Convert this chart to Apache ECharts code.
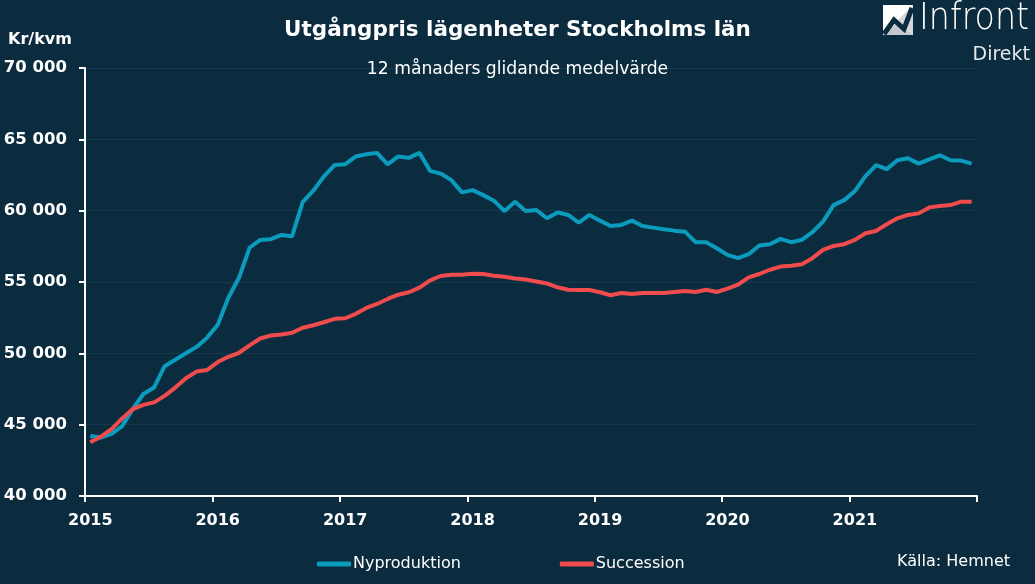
<!DOCTYPE html>
<html>
<head>
<meta charset="utf-8">
<script src="https://cdn.jsdelivr.net/npm/echarts@6/dist/echarts.min.js"></script>
<style>
html,body{margin:0;padding:0;background:#0b2b3e;}
#chart{width:1035px;height:584px;}
</style>
</head>
<body>
<div id="chart"></div>
<script>
var years = ['2015','2016','2017','2018','2019','2020','2021'];
var yTicks = [40000, 45000, 50000, 55000, 60000, 65000, 70000];
var nyproduktion = [
44200,44100,44350,44900,46100,47150,47600,49100,49550,50000,50450,51100,
52000,53900,55300,57400,57950,58000,58300,58200,60600,61400,62400,63200,
63250,63800,63950,64050,63250,63800,63700,64050,62790,62600,62140,61280,
61440,61090,60700,59980,60630,59980,60050,59470,59880,59700,59160,59700,
59300,58930,59000,59300,58930,58810,58700,58600,58530,57790,57790,57370,
56900,56670,56950,57560,57650,58020,57790,57950,58490,59230,60390,60740,
61370,62420,63190,62910,63530,63670,63300,63600,63880,63530,63510,63300
];
var succession = [
43760,44160,44690,45440,46090,46390,46560,47020,47600,48250,48720,48830,
49390,49760,50040,50560,51040,51250,51320,51440,51790,51970,52180,52420,
52460,52770,53180,53460,53810,54110,54280,54600,55120,55420,55510,55510,
55580,55560,55440,55370,55250,55180,55040,54900,54630,54460,54440,54440,
54280,54070,54230,54160,54230,54230,54230,54300,54370,54300,54460,54300,
54530,54810,55320,55560,55860,56080,56140,56250,56670,57250,57530,57650,
57950,58420,58580,59050,59460,59700,59810,60230,60320,60390,60630,60630
];
var months = [];
years.forEach(function(y){ for (var m = 1; m <= 12; m++) months.push(y + '-' + (m < 10 ? '0' + m : m)); });

var bg = '#0b2b3e';
var chart = echarts.init(document.getElementById('chart'));
chart.setOption({
  backgroundColor: bg,
  animation: false,
  title: [
    { text: 'Utgångpris lägenheter Stockholms län', left: 'center', top: 14,
      textStyle: { color: '#ffffff', fontFamily: 'DejaVu Sans', fontWeight: 'bold', fontSize: 21.5 } },
    { text: '12 månaders glidande medelvärde', left: 'center', top: 56,
      textStyle: { color: '#ffffff', fontFamily: 'DejaVu Sans', fontWeight: 'normal', fontSize: 17.2 } }
  ],
  grid: { left: 85, right: 58, top: 68, bottom: 88, containLabel: false },
  legend: {
    left: 312, top: 551, itemGap: 99, itemWidth: 34, itemHeight: 5, icon: 'roundRect',
    textStyle: { color: '#ffffff', fontFamily: 'DejaVu Sans', fontSize: 16, padding: [0,0,0,-3] },
    data: ['Nyproduktion', 'Succession']
  },
  xAxis: {
    type: 'category', data: months, boundaryGap: true,
    axisLine: { lineStyle: { color: '#ffffff', width: 2 } },
    axisTick: { show: true, interval: 11, length: 6, lineStyle: { color: '#ffffff', width: 2 } },
    axisLabel: { interval: 11, margin: 17, color: '#ffffff', fontFamily: 'DejaVu Sans', fontWeight: 'bold', fontSize: 16,
      formatter: function(v){ return v.slice(0,4); } },
    splitLine: { show: false }
  },
  yAxis: {
    type: 'value', min: yTicks[0], max: yTicks[yTicks.length-1], interval: 5000,
    axisLine: { show: true, lineStyle: { color: '#ffffff', width: 2 } },
    axisTick: { show: true, length: 6, lineStyle: { color: '#ffffff', width: 2 } },
    axisLabel: { margin: 18, color: '#ffffff', fontFamily: 'DejaVu Sans', fontWeight: 'bold', fontSize: 16.5,
      formatter: function(v){ return String(v).replace(/\B(?=(\d{3})+(?!\d))/g, ' '); } },
    splitLine: { show: true, lineStyle: { color: '#17394d', width: 1 } }
  },
  series: [
    { name: 'Nyproduktion', type: 'line', data: nyproduktion, symbol: 'none', showSymbol: false,
      lineStyle: { color: '#0b9bbd', width: 4 }, itemStyle: { color: '#0b9bbd' } },
    { name: 'Succession', type: 'line', data: succession, symbol: 'none', showSymbol: false,
      lineStyle: { color: '#f04b4d', width: 4 }, itemStyle: { color: '#f04b4d' } }
  ],
  graphic: [
    { type: 'text', left: 8, top: 32, style: { text: 'Kr/kvm', fill: '#ffffff', font: 'bold 16px "DejaVu Sans"' } },
    { type: 'text', right: 25, top: 554, style: { text: 'Källa: Hemnet', fill: '#ffffff', font: '16px "DejaVu Sans"' } },
    { type: 'rect', shape: { x: 883, y: 5, width: 30, height: 30 }, style: { fill: '#ffffff' } },
    { type: 'polygon', shape: { points: [[913,5],[913,35],[898,20]] }, style: { fill: '#d3d7db' } },
    { type: 'polygon', shape: { points: [[883,35],[913,35],[898,22]] }, style: { fill: '#c4c9ce' } },
    { type: 'polyline', shape: { points: [[884,34],[894,20],[904,29],[912,8]] }, style: { stroke: bg, lineWidth: 5, fill: null } },
    { type: 'text', x: 919, y: 1, scaleX: 0.9, style: { text: 'Infront', fill: '#ffffff', font: '300 37px "DejaVu Sans"' } },
    { type: 'text', right: 5, top: 46, style: { text: 'Direkt', fill: '#e6e9ec', font: '19px "DejaVu Sans"' } }
  ]
});
</script>
</body>
</html>
